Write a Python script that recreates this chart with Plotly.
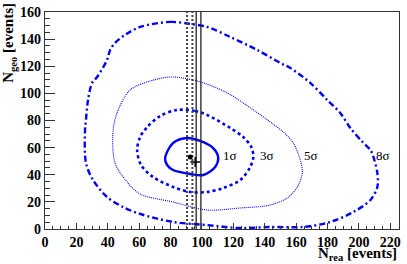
import plotly.graph_objects as go

# ---- data ----
sig1_x = [76.5, 81.6, 90.6, 98.9, 107.1, 110.3, 108.4, 100.8, 92.5, 81.6, 77.8]
sig1_y = [52.4, 63.4, 67.1, 64.9, 59.7, 53.1, 45.7, 39.8, 40.6, 43.5, 47.2]

sig3_x = [84.2, 95.7, 103.3, 118.0, 126.3, 131.4, 132.7, 130.7, 124.4, 113.5, 103.3, 92.5,
          81.6, 68.9, 61.2, 58.7, 60.6, 65.1, 73.3]
sig3_y = [87.8, 87.0, 84.1, 74.5, 67.8, 60.5, 53.1, 45.7, 36.1, 30.2, 27.3, 27.3,
          31.0, 38.3, 47.2, 58.3, 67.8, 75.2, 83.3]

sig5_x = [81.0, 98.9, 116.1, 132.7, 143.5, 151.8, 158.2, 162.6, 163.9, 160.7, 154.3, 143.5,
          124.4, 103.3, 81.6, 60.6, 52.3, 44.6, 43.4, 46.6, 54.2, 67.0]
sig5_y = [112.1, 108.4, 100.3, 87.8, 78.9, 71.5, 63.4, 50.9, 41.3, 31.0, 22.9, 17.7,
          15.5, 14.0, 19.9, 25.8, 34.7, 48.7, 73.0, 87.8, 102.5, 109.1]

sig8_x = [60.6, 79.7, 92.5, 103.3, 118.0, 135.2, 149.9, 156.3, 169.0, 179.8, 188.1, 194.5,
          202.2, 207.3, 209.2, 211.7, 211.7, 207.3, 196.4, 181.8, 164.5, 143.5, 124.4, 103.3,
          81.6, 60.6, 49.7, 39.5, 30.6, 26.1, 25.5, 26.1, 27.4, 30.0, 33.2, 39.5, 41.5, 44.6, 51.0]
sig8_y = [149.0, 152.7, 151.2, 149.0, 141.6, 132.0, 122.4, 118.7, 107.7, 95.1, 85.5, 74.5,
          64.2, 58.3, 53.1, 41.3, 31.0, 21.4, 12.5, 5.2, 1.5, 1.5, 0.7, 2.9,
          5.2, 11.1, 16.2, 23.6, 36.1, 48.7, 73.0, 80.4, 95.1, 107.7, 112.1, 124.6, 132.0, 137.2, 143.1]

dotted_lines_x = [90.5, 93.9]
solid_lines_x = [96.3, 99.3]

best_fit = (92.5, 53.1)
true_point = (95.7, 49.4)

labels = ["1σ", "3σ", "5σ", "8σ"]
label_x = [111.8, 135.8, 163.9, 209.6]
label_y = [54.0, 54.0, 54.0, 54.0]

X_RANGE = [0, 225.5]
Y_RANGE = [0, 160]

SERIF = "Liberation Serif, Times New Roman, DejaVu Serif, serif"


def closed(xs, ys):
    return list(xs) + [xs[0]], list(ys) + [ys[0]]


fig = go.Figure()

BLUE = "#0000ff"

for xs, ys, w, dash, col in [
    (sig8_x, sig8_y, 2.4, "6px,3px,2px,3px", BLUE),
    (sig5_x, sig5_y, 1.1, "1px,1px", BLUE),
    (sig3_x, sig3_y, 2.6, "3px,3px", BLUE),
    (sig1_x, sig1_y, 2.4, None, BLUE),
]:
    cx, cy = closed(xs, ys)
    fig.add_trace(go.Scatter(
        x=cx, y=cy, mode="lines",
        line=dict(color=col, width=w, dash=dash, shape="spline", smoothing=0.9),
        hoverinfo="skip", showlegend=False))

for vx in dotted_lines_x:
    fig.add_trace(go.Scatter(
        x=[vx, vx], y=Y_RANGE, mode="lines",
        line=dict(color="#444444", width=2, dash="2px,2px"),
        hoverinfo="skip", showlegend=False))
for vx in solid_lines_x:
    fig.add_trace(go.Scatter(
        x=[vx, vx], y=Y_RANGE, mode="lines",
        line=dict(color="#222222", width=1.3),
        hoverinfo="skip", showlegend=False))

fig.add_trace(go.Scatter(
    x=[best_fit[0]], y=[best_fit[1]], mode="markers",
    marker=dict(symbol="circle", size=5, color="black"),
    hoverinfo="skip", showlegend=False))
fig.add_trace(go.Scatter(
    x=[true_point[0]], y=[true_point[1]], mode="markers",
    marker=dict(symbol="cross-thin", size=7, color="black",
                line=dict(color="black", width=1.5)),
    hoverinfo="skip", showlegend=False))

for t, lx, ly in zip(labels, label_x, label_y):
    fig.add_annotation(x=lx, y=ly, text=t, showarrow=False,
                       xanchor="left", yanchor="middle",
                       font=dict(family=SERIF, size=13, color="black"))

fig.add_annotation(xref="paper", yref="paper", x=1.0, y=-0.115,
                   text="<b>N<sub>rea</sub> [events]</b>", showarrow=False,
                   xanchor="right", yanchor="middle",
                   font=dict(family=SERIF, size=15, color="black"))
fig.add_annotation(xref="paper", yref="paper", x=-0.1, y=1.05,
                   text="<b>N<sub>geo</sub> [events]</b>", showarrow=False, textangle=-90,
                   xanchor="center", yanchor="top",
                   font=dict(family=SERIF, size=15, color="black"))

axis_common = dict(
    showgrid=False, zeroline=False, automargin=False,
    showline=True, linecolor="#333333", linewidth=1.3, mirror=True,
    ticks="inside", tickcolor="#333333", tickwidth=1,
    tickfont=dict(family=SERIF, size=14, color="black", weight="bold"),
)

fig.update_xaxes(range=X_RANGE, dtick=20, tick0=0, ticklen=6,
                 minor=dict(dtick=5, ticks="inside", ticklen=3, tickcolor="#333333"),
                 **axis_common)
fig.update_yaxes(range=Y_RANGE, dtick=20, tick0=0, ticklen=10,
                 minor=dict(dtick=5, ticks="inside", ticklen=5, tickcolor="#333333"),
                 **axis_common)

fig.update_layout(
    width=407, height=264,
    margin=dict(l=45, r=8, t=12, b=35, autoexpand=False),
    plot_bgcolor="white", paper_bgcolor="white",
)

fig.write_html("out.html",
               config={"displayModeBar": False},
               post_script="document.body.style.margin='0';document.body.style.overflow='hidden';")
